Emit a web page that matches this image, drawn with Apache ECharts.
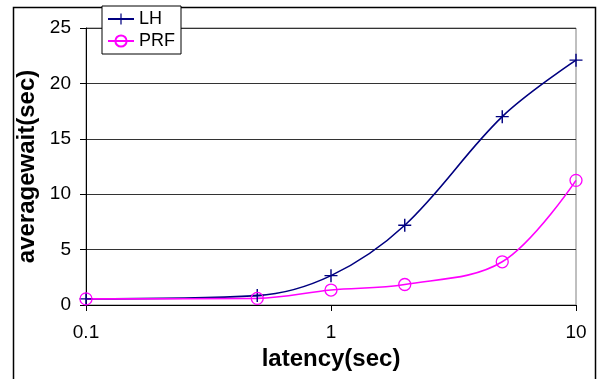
<!DOCTYPE html>
<html>
<head>
<meta charset="utf-8">
<script src="https://cdn.jsdelivr.net/npm/echarts@6/dist/echarts.min.js"></script>
<style>
html,body{margin:0;padding:0;background:#fff;}
#chart{width:597px;height:379px;}
</style>
</head>
<body>
<div id="chart"></div>
<script>
var latency = [0.1, 0.5, 1, 2, 5, 10];
var lhValues = [0.55, 0.85, 2.65, 7.2, 17.0, 22.1];
var prfValues = [0.55, 0.6, 1.35, 1.85, 3.9, 11.25];
var xTickLabels = ['0.1', '1', '10'];
var yTicks = [0, 5, 10, 15, 20, 25];

function pairs(xs, ys) { return xs.map(function (x, i) { return [x, ys[i]]; }); }

var FONT = '"Liberation Sans", Arial, sans-serif';
var plus = 'path://M4.45,0H5.55V4.45H10V5.55H5.55V10H4.45V5.55H0V4.45H4.45Z';

var chart = echarts.init(document.getElementById('chart'), null, {renderer: 'canvas'});
chart.setOption({
  animation: false,
  backgroundColor: '#fff',
  graphic: [{
    type: 'rect', left: 11, top: 5, silent: true,
    shape: {width: 582, height: 400},
    style: {fill: 'none', stroke: '#000', lineWidth: 1.5}
  }],
  grid: {left: 86, right: 21, top: 28, bottom: 74, show: true, borderColor: '#808080', borderWidth: 1, backgroundColor: 'transparent'},
  legend: {
    left: 102, top: 6, orient: 'vertical',
    backgroundColor: '#fff',
    borderColor: '#000', borderWidth: 1,
    padding: [4, 6, 4, 5], itemGap: 4,
    itemWidth: 26, itemHeight: 14,
    textStyle: {fontFamily: FONT, fontSize: 18, color: '#000'},
    data: ['LH', 'PRF']
  },
  xAxis: {
    type: 'log', logBase: 10, min: 0.1, max: 10,
    name: 'latency(sec)', nameLocation: 'middle', nameGap: 41,
    nameTextStyle: {fontFamily: FONT, fontSize: 24, fontWeight: 'bold', color: '#000'},
    axisLine: {show: true, lineStyle: {color: '#000', width: 1}},
    axisTick: {show: true, inside: false, length: 6, lineStyle: {color: '#000'}},
    minorTick: {show: false},
    splitLine: {show: false},
    axisLabel: {
      fontFamily: FONT, fontSize: 19, color: '#000', margin: 18,
      formatter: function (v) {
        var i = Math.round(Math.log10(v)) + 1;
        return xTickLabels[i] !== undefined ? xTickLabels[i] : '';
      }
    }
  },
  yAxis: {
    type: 'value', min: yTicks[0], max: yTicks[yTicks.length - 1], interval: 5,
    name: 'averagewait(sec)', nameLocation: 'middle', nameGap: 45,
    nameTextStyle: {fontFamily: FONT, fontSize: 24, fontWeight: 'bold', color: '#000'},
    axisLine: {show: true, lineStyle: {color: '#000', width: 1}},
    axisTick: {show: true, inside: false, length: 6, lineStyle: {color: '#000'}},
    splitLine: {show: true, lineStyle: {color: '#333', width: 1}},
    axisLabel: {fontFamily: FONT, fontSize: 19, color: '#000', margin: 15}
  },
  series: [
    {
      name: 'LH', type: 'line', smooth: 0.35,
      data: pairs(latency, lhValues),
      symbol: plus, symbolSize: 13, showAllSymbol: true,
      lineStyle: {color: '#000080', width: 1.6},
      itemStyle: {color: '#000080', borderWidth: 0}
    },
    {
      name: 'PRF', type: 'line', smooth: 0.35,
      data: pairs(latency, prfValues),
      symbol: 'circle', symbolSize: 12, showAllSymbol: true,
      lineStyle: {color: '#FF00FF', width: 1.6},
      itemStyle: {color: 'rgba(0,0,0,0)', borderColor: '#FF00FF', borderWidth: 1.3}
    }
  ]
});
</script>
</body>
</html>
